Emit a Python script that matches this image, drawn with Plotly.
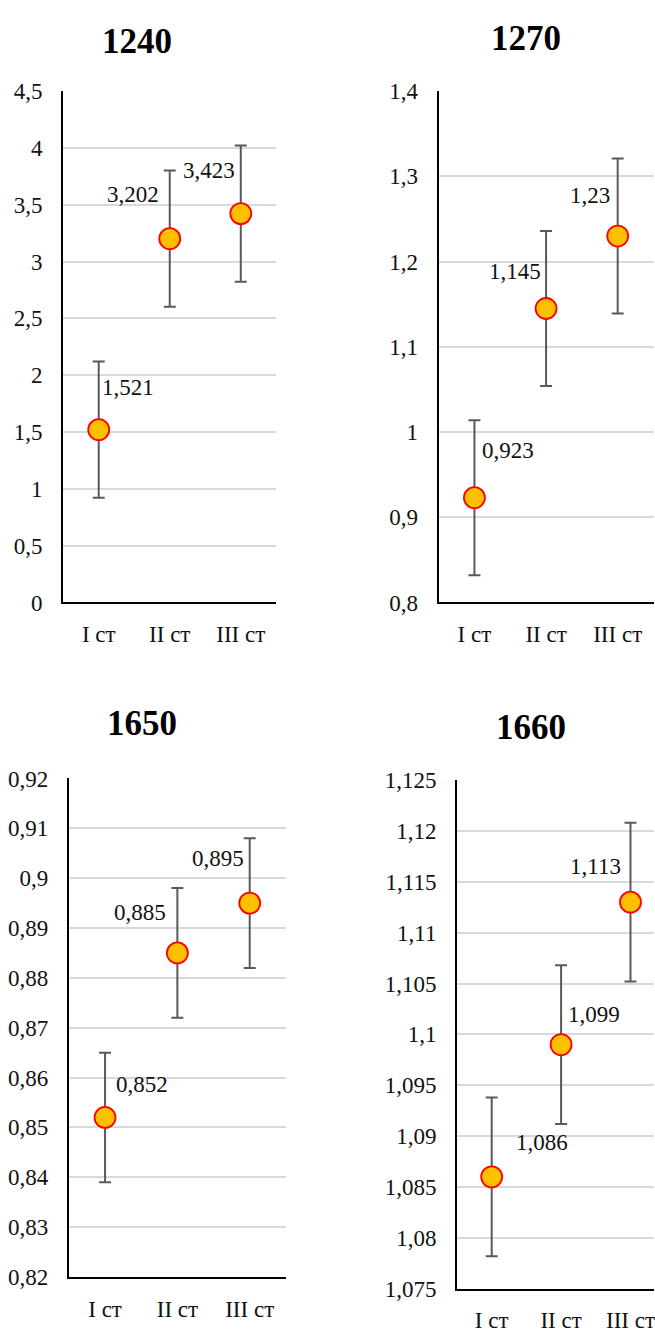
import plotly.graph_objects as go

W, H = 655, 1341

categories = ["I ст", "II ст", "III ст"]

titles = ["1240", "1270", "1650", "1660"]
values_1240 = [1.521, 3.202, 3.423]
values_1270 = [0.923, 1.145, 1.23]
values_1650 = [0.852, 0.885, 0.895]
values_1660 = [1.086, 1.099, 1.113]
errors = [0.6, 0.091, 0.013, 0.0078]

yticks_1240 = [0, 0.5, 1, 1.5, 2, 2.5, 3, 3.5, 4, 4.5]
yticks_1270 = [0.8, 0.9, 1, 1.1, 1.2, 1.3, 1.4]
yticks_1650 = [0.82, 0.83, 0.84, 0.85, 0.86, 0.87, 0.88, 0.89, 0.9, 0.91, 0.92]
yticks_1660 = [1.075, 1.08, 1.085, 1.09, 1.095, 1.1, 1.105, 1.11, 1.115, 1.12, 1.125]

series = [values_1240, values_1270, values_1650, values_1660]
yticks = [yticks_1240, yticks_1270, yticks_1650, yticks_1660]

# panel boxes in pixels: (x0, x1, y_top, y_bottom), x range upper bound
boxes = [
    (63.3, 276.7, 80.7, 601.7, 2.5),
    (439.3, 654.5, 80.7, 601.7, 2.5),
    (69, 286.3, 781, 1289, 2.5),
    (457.7, 655, 782.7, 1301, 2.339),
]
title_pos = [(137, 30), (527.3, 26.7), (142.7, 725), (531.7, 729.3)]

# offsets (px) of each data label from its marker: (dx, dy up)
label_shift = [
    [(29, 42), (-37, 44), (-32, 43)],
    [(34, 47), (-31, 37), (-28, 41)],
    [(37, 33), (-37, 40), (-32, 45)],
    [(50, 34), (33, 30), (-35, 36)],
]

FONT = "Liberation Serif, Times New Roman, serif"
TXT = "#111111"


def fmt(v):
    return f"{v:g}".replace(".", ",")


fig = go.Figure()
layout = dict(
    width=W, height=H, margin=dict(l=0, r=0, t=0, b=0),
    paper_bgcolor="white", plot_bgcolor="white", showlegend=False,
    font=dict(family=FONT, size=23, color=TXT),
)
annotations = []

for i, (vals, ticks, box) in enumerate(zip(series, yticks, boxes)):
    n = "" if i == 0 else str(i + 1)
    x0, x1, yt, yb, xmax = box
    fig.add_trace(go.Scatter(
        x=categories, y=vals, mode="markers",
        xaxis="x" + n, yaxis="y" + n,
        marker=dict(size=21, color="#FFC000", line=dict(color="#FF0000", width=1.8)),
        error_y=dict(type="constant", value=errors[i], color="#595959",
                     thickness=2, width=6),
        cliponaxis=False,
    ))
    layout["xaxis" + n] = dict(
        domain=[x0 / W, x1 / W], anchor="y" + n, type="category",
        range=[-0.5, xmax], showgrid=False, zeroline=False,
        showline=True, linecolor="black", linewidth=2,
        ticks="", ticklabelstandoff=10, tickfont=dict(size=23, family=FONT, color=TXT),
        fixedrange=True,
    )
    layout["yaxis" + n] = dict(
        domain=[1 - yb / H, 1 - yt / H], anchor="x" + n,
        range=[ticks[0], ticks[-1]], tickvals=ticks,
        ticktext=[fmt(t) for t in ticks],
        showgrid=True, gridcolor="#D9D9D9", gridwidth=1.5, zeroline=False,
        showline=True, linecolor="black", linewidth=2,
        ticks="", ticklabelstandoff=14, tickfont=dict(size=23, family=FONT, color=TXT),
        fixedrange=True,
    )
    tx, ty = title_pos[i]
    annotations.append(dict(
        text=f"<b>{titles[i]}</b>", x=tx / W, y=1 - ty / H, xref="paper",
        yref="paper", showarrow=False, xanchor="center", yanchor="middle",
        font=dict(family=FONT, size=35, color="black"),
    ))
    for j, v in enumerate(vals):
        dx, dy = label_shift[i][j]
        annotations.append(dict(
            text=fmt(v), x=categories[j], y=v, xref="x" + n, yref="y" + n,
            showarrow=False, xshift=dx, yshift=dy,
            xanchor="center", yanchor="middle",
            font=dict(family=FONT, size=23, color=TXT),
        ))

layout["annotations"] = annotations
fig.update_layout(**layout)
fig.write_html("out.html")
